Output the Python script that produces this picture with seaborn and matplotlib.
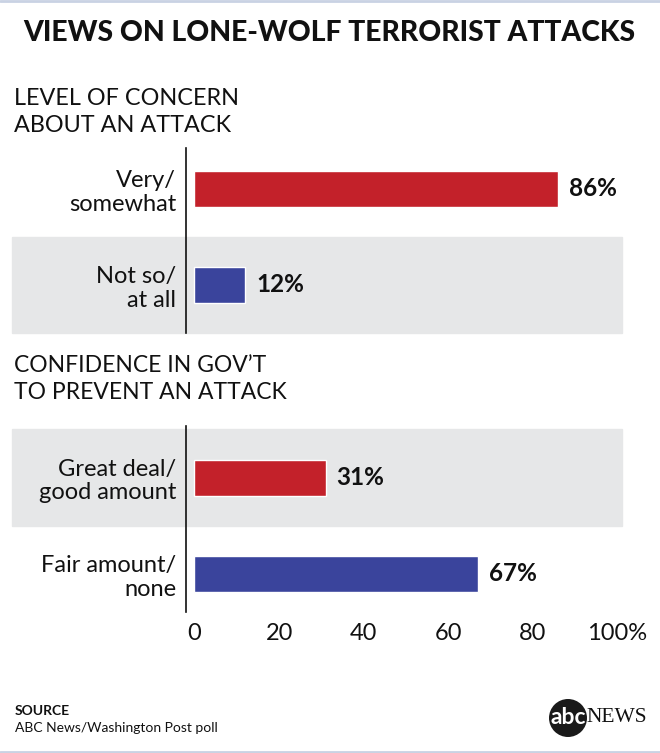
import matplotlib
matplotlib.use("Agg")
import matplotlib.pyplot as plt
from matplotlib.patches import Circle
from matplotlib.lines import Line2D
import seaborn as sns

# ---------------------------------------------------------------------------
# data
# ---------------------------------------------------------------------------
title = "VIEWS ON LONE-WOLF TERRORIST ATTACKS"

concern_header = "LEVEL OF CONCERN\nABOUT AN ATTACK"
concern_labels = ["Very/\nsomewhat", "Not so/\nat all"]
concern_values = [86, 12]

confidence_header = "CONFIDENCE IN GOV\u2019T\nTO PREVENT AN ATTACK"
confidence_labels = ["Great deal/\ngood amount", "Fair amount/\nnone"]
confidence_values = [31, 67]

x_ticks = [0, 20, 40, 60, 80, 100]
x_ticklabels = ["0", "20", "40", "60", "80", "100%"]

source_head = "SOURCE"
source_text = "ABC News/Washington Post poll"

RED = "#C3212A"
BLUE = "#3A449C"
BAND = "#E6E7E8"
INK = "#111111"

W, H = 660, 753
sns.set_theme(style="white")
plt.rcParams["font.family"] = ["Lato", "DejaVu Sans"]

fig = plt.figure(figsize=(W / 100, H / 100), dpi=100)


def px_axes(left, top, right, bottom):
    return fig.add_axes([left / W, 1 - bottom / H, (right - left) / W, (bottom - top) / H])


def draw_panel(ax, labels, values, ylim, band, show_x):
    sns.barplot(x=values, y=labels, hue=labels, palette=[RED, BLUE], orient="h",
                width=0.375, ax=ax, legend=False, saturation=1)
    ax.set_xlim(-2.0, 101.06)
    ax.set_ylim(*ylim)
    ax.axhspan(band[0], band[1], xmin=-0.399, xmax=1.0, color=BAND, zorder=0, clip_on=False)
    for i, v in enumerate(values):
        ax.text(v + 2.6, i, f"{v}%", va="center", ha="left", fontsize=17.5,
                fontweight="bold", color=INK)
    for s in ["top", "right", "bottom"]:
        ax.spines[s].set_visible(False)
    ax.spines["left"].set_color(INK)
    ax.spines["left"].set_linewidth(1.2)
    ax.set_facecolor("none")
    ax.set_xlabel("")
    ax.set_ylabel("")
    ax.tick_params(axis="y", length=0, pad=7, labelsize=17, labelcolor=INK)
    for t in ax.get_yticklabels():
        t.set_ha("right")
        t.set_linespacing(1.15)
    if show_x:
        ax.set_xticks(x_ticks)
        ax.set_xticklabels(x_ticklabels)
        ax.tick_params(axis="x", length=0, pad=8, labelsize=17, labelcolor=INK)
    else:
        ax.set_xticks([])


ax1 = px_axes(186, 148, 622, 333)
draw_panel(ax1, concern_labels, concern_values, (1.5, -0.427), (0.5, 1.5), False)

ax2 = px_axes(186, 426, 622, 612)
draw_panel(ax2, confidence_labels, confidence_values, (1.396, -0.54), (-0.51, 0.5), True)

# headers
fig.text(329 / W, 1 - 33 / H, title, ha="center", va="center", fontsize=20.3,
         fontweight="black", color=INK)
fig.text(14 / W, 1 - 112 / H, concern_header, ha="left", va="center", fontsize=16.8,
         color=INK, linespacing=1.3)
fig.text(14 / W, 1 - 379 / H, confidence_header, ha="left", va="center", fontsize=16.5,
         color=INK, linespacing=1.3)

# source
fig.text(15 / W, 1 - 711 / H, source_head, ha="left", va="center", fontsize=10,
         fontweight="bold", color=INK)
fig.text(15 / W, 1 - 728 / H, source_text, ha="left", va="center", fontsize=10,
         color=INK)

# abc news mark
fig.patches.append(Circle((568 / 100, (H - 718) / 100), 0.19, transform=fig.dpi_scale_trans,
                          facecolor="#1a1a1a", edgecolor="none"))
fig.text(568 / W, 1 - 717 / H, "abc", ha="center", va="center", fontsize=16.5,
         fontweight="bold", color="white")
fig.text(617 / W, 1 - 717 / H, "NEWS", ha="center", va="center", fontsize=15.5,
         family=["Liberation Serif", "DejaVu Serif"], color=INK)

# thin frame lines
fig.add_artist(Line2D([0, 1], [1 - 1 / H, 1 - 1 / H], transform=fig.transFigure,
                      color="#c9d2e3", linewidth=2))
fig.add_artist(Line2D([0, 1], [1 / H, 1 / H], transform=fig.transFigure,
                      color="#c9d2e3", linewidth=2))

fig.savefig("out.png", dpi=100, facecolor="white")
